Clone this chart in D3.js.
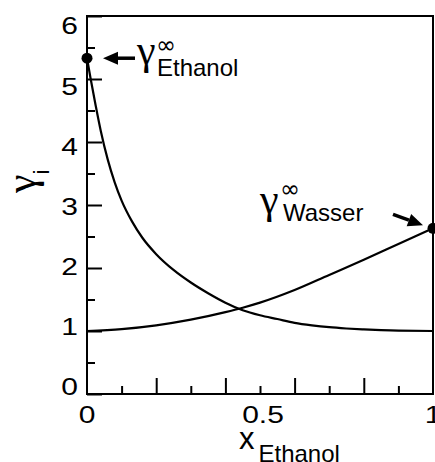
<!DOCTYPE html>
<html>
<head>
<meta charset="utf-8">
<style>
  body { margin: 0; background: #fff; }
  text { font-family: "Liberation Sans", Arial, sans-serif; fill: #000; }
  .curve { fill: none; stroke: #000; stroke-width: 2.2px; }
</style>
</head>
<body>
<svg id="chart"></svg>
<script src="https://cdn.jsdelivr.net/npm/d3@7"></script>
<script>
// activity coefficients
var xEthanol = [0, 0.01, 0.025, 0.04, 0.06, 0.08, 0.1, 0.13, 0.16, 0.2, 0.25, 0.3, 0.35, 0.4, 0.45, 0.5, 0.55, 0.6, 0.65, 0.7, 0.75, 0.8, 0.85, 0.9, 1.0];
var gammaEthanol = [5.33, 5.02, 4.58, 4.17, 3.72, 3.36, 3.07, 2.74, 2.48, 2.22, 1.97, 1.77, 1.60, 1.45, 1.33, 1.25, 1.19, 1.13, 1.09, 1.06, 1.04, 1.025, 1.013, 1.005, 1.0];
var xWasser = [0, 0.1, 0.2, 0.3, 0.4, 0.45, 0.5, 0.6, 0.7, 0.8, 0.9, 1.0];
var gammaWasser = [1.0, 1.03, 1.09, 1.18, 1.30, 1.37, 1.45, 1.65, 1.89, 2.13, 2.38, 2.63];

var yMajor = [0, 1, 2, 3, 4, 5, 6];
var yMinor = [0.5, 1.5, 2.5, 3.5, 4.5, 5.5];
var xMajor = [0.2, 0.4, 0.6, 0.8];
var xMinor = [0.1, 0.3, 0.5, 0.7, 0.9];
var yLabels = [0, 1, 2, 3, 4, 5, 6];
var xLabels = [0, 0.5, 1];

var width = 435, height = 462;
var margin = {top: 16, right: 2, bottom: 68, left: 87};

var svg = d3.select("#chart").attr("width", width).attr("height", height);

var x = d3.scaleLinear().domain([0, 1]).range([margin.left, width - margin.right]);
var y = d3.scaleLinear().domain([0, 6]).range([height - margin.bottom, margin.top]);
// tick labels in the original sit a bit closer together than the ticks
var yLab = d3.scaleLinear().domain([0, 6]).range([387, 26]);

function ticks(g) {
  g.select(".domain").remove();
  g.selectAll("line").attr("stroke-width", 2);
}

svg.append("g").attr("transform", "translate(" + x(0) + ",0)")
  .call(d3.axisLeft(y).tickValues(yMajor).tickSize(-15).tickFormat("")).call(ticks);
svg.append("g").attr("transform", "translate(" + x(0) + ",0)")
  .call(d3.axisLeft(y).tickValues(yMinor).tickSize(-8).tickFormat("")).call(ticks);
svg.append("g").attr("transform", "translate(0," + y(0) + ")")
  .call(d3.axisBottom(x).tickValues(xMajor).tickSize(-16).tickFormat("")).call(ticks);
svg.append("g").attr("transform", "translate(0," + y(0) + ")")
  .call(d3.axisBottom(x).tickValues(xMinor).tickSize(-8).tickFormat("")).call(ticks);

svg.append("rect")
  .attr("x", x(0)).attr("y", y(6))
  .attr("width", x(1) - x(0)).attr("height", y(0) - y(6))
  .attr("fill", "none").attr("stroke", "#000").attr("stroke-width", 2);

svg.selectAll(".ylab").data(yLabels).enter().append("text")
  .attr("class", "ylab")
  .attr("transform", function(d) { return "translate(78," + yLab(d) + ") scale(1.25,1)"; })
  .attr("text-anchor", "end").attr("dy", "0.35em")
  .style("font-size", "24px")
  .text(function(d) { return d; });

svg.selectAll(".xlab").data(xLabels).enter().append("text")
  .attr("class", "xlab")
  .attr("transform", function(d) { return "translate(" + (x(d) + (d == 0.5 ? 3 : 0)) + ",423) scale(1.25,1)"; })
  .attr("text-anchor", "middle")
  .style("font-size", "24px")
  .text(function(d) { return d; });

// axis titles
var xt = svg.append("text").attr("x", 239).attr("y", 449);
xt.append("tspan").style("font-size", "31px").text("x");
xt.append("tspan").attr("dx", 4).attr("dy", 13).style("font-size", "24px").text("Ethanol");

var yt = svg.append("text").attr("transform", "translate(35,193) rotate(-90)");
yt.append("tspan").style("font-size", "42px").style("font-family", "Liberation Serif").text("γ");
yt.append("tspan").attr("dy", 14).style("font-size", "22px").text("i");

// curves
var line = d3.line()
  .x(function(d) { return x(d[0]); })
  .y(function(d) { return y(d[1]); })
  .curve(d3.curveMonotoneX);

svg.append("path").attr("class", "curve").attr("d", line(d3.zip(xEthanol, gammaEthanol)));
svg.append("path").attr("class", "curve").attr("d", line(d3.zip(xWasser, gammaWasser)));

// infinite dilution points
var pE = [x(xEthanol[0]), y(gammaEthanol[0])];
var pW = [x(xWasser[xWasser.length - 1]), y(gammaWasser[gammaWasser.length - 1])];
svg.selectAll(".dot").data([pE, pW]).enter().append("circle")
  .attr("cx", function(d) { return d[0]; }).attr("cy", function(d) { return d[1]; })
  .attr("r", 5.5).attr("fill", "#000");

function arrow(x1, y1, x2, y2) {
  var a = Math.atan2(y2 - y1, x2 - x1), len = 15, w = 6.5;
  var bx = x2 - len * Math.cos(a), by = y2 - len * Math.sin(a);
  svg.append("line").attr("x1", x1).attr("y1", y1).attr("x2", bx).attr("y2", by)
    .attr("stroke", "#000").attr("stroke-width", 3.5);
  svg.append("path").attr("fill", "#000").attr("d",
    "M" + x2 + "," + y2 +
    "L" + (bx - w * Math.sin(a)) + "," + (by + w * Math.cos(a)) +
    "L" + (bx + w * Math.sin(a)) + "," + (by - w * Math.cos(a)) + "Z");
}
arrow(pE[0] + 48, pE[1], pE[0] + 16, pE[1]);
arrow(pW[0] - 40, pW[1] - 14, pW[0] - 10, pW[1] - 3);

function gammaLabel(gx, gy, sub, sx, sy, ix, iy) {
  svg.append("text").attr("x", gx).attr("y", gy)
    .style("font-size", "42px").style("font-family", "Liberation Serif").text("γ");
  svg.append("text").attr("x", ix).attr("y", iy)
    .style("font-size", "24px").style("font-family", "DejaVu Sans").text("∞");
  svg.append("text").attr("x", sx).attr("y", sy)
    .style("font-size", "24px").text(sub);
}
gammaLabel(pE[0] + 50, pE[1] + 6, "Ethanol", pE[0] + 70, pE[1] + 18, pE[0] + 69, pE[1] - 5);
gammaLabel(pW[0] - 173, pW[1] - 15, "Wasser", pW[0] - 150, pW[1] - 7, pW[0] - 153, pW[1] - 31);
</script>
</body>
</html>
